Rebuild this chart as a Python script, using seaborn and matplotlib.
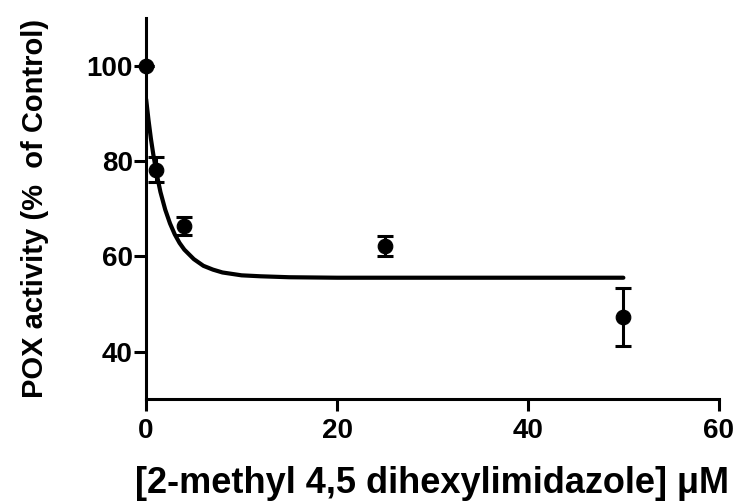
import matplotlib
matplotlib.use("Agg")
from matplotlib import pyplot as plt
import seaborn as sns
import pandas as pd

# measured points (mean +/- error)
conc = [0, 1, 4, 25, 50]
activity = [100.0, 78.2, 66.4, 62.1, 47.3]
error = [0.0, 2.6, 1.9, 2.1, 6.1]

# fitted curve
fit_x = [0, 0.25, 0.5, 0.75, 1, 1.25, 1.5, 2, 2.5, 3, 3.5, 4, 5, 6, 7, 8, 10, 12, 15, 20, 30, 40, 50]
fit_y = [93.0, 88.6, 84.7, 81.4, 78.5, 75.9, 73.5, 69.8, 66.9, 64.6, 62.8, 61.4, 59.4, 58.0,
         57.2, 56.6, 56.0, 55.8, 55.6, 55.5, 55.5, 55.5, 55.5]

x_ticks = [0, 20, 40, 60]
y_ticks = [40, 60, 80, 100]

if __name__ == "__main__":
    sns.set_style("ticks")
    plt.rcParams["font.family"] = ["Liberation Sans", "DejaVu Sans"]
    plt.rcParams["font.weight"] = "bold"
    for key in ["text.color", "axes.labelcolor", "xtick.color", "ytick.color", "axes.edgecolor"]:
        plt.rcParams[key] = "black"

    points = pd.DataFrame({"conc": conc, "activity": activity, "error": error})
    fit = pd.DataFrame({"conc": fit_x, "activity": fit_y})

    fig = plt.figure(figsize=(7.38, 5.04), dpi=100)
    ax = fig.add_axes([0.198, 0.208, 0.776, 0.756])

    sns.lineplot(data=fit, x="conc", y="activity", color="black", linewidth=3, ax=ax)
    ax.errorbar(points["conc"], points["activity"], yerr=points["error"], fmt="none",
                ecolor="black", elinewidth=2.2, capsize=6, capthick=2.2, zorder=3,
                clip_on=False)
    sns.scatterplot(data=points, x="conc", y="activity", color="black", s=110,
                    edgecolor="black", zorder=4, clip_on=False, ax=ax)

    ax.set_xlim(0, 60)
    ax.set_ylim(30, 110)
    ax.set_xticks(x_ticks)
    ax.set_yticks(y_ticks)
    ax.tick_params(axis="both", length=8.5, width=2.2, labelsize=20)
    ax.tick_params(axis="y", pad=1)
    ax.tick_params(axis="x", pad=5)
    for lab in ax.get_xticklabels() + ax.get_yticklabels():
        lab.set_fontweight("bold")
    for side in ["top", "right"]:
        ax.spines[side].set_visible(False)
    for side in ["left", "bottom"]:
        ax.spines[side].set_linewidth(2.2)

    ax.set_xlabel("[2-methyl 4,5 dihexylimidazole] \u03bcM", fontsize=26, fontweight="bold", labelpad=16)
    ax.set_ylabel("POX activity (%  of Control)", fontsize=21, fontweight="bold", labelpad=27)

    plt.savefig("out.png", dpi=100)
